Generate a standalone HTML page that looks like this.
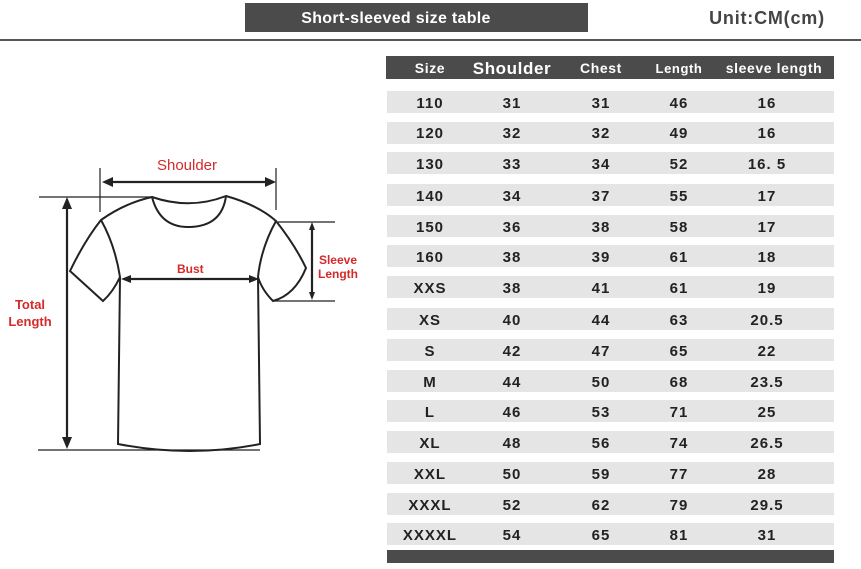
<!DOCTYPE html>
<html><head><meta charset="utf-8"><style>
body{margin:0;background:#fff;}
svg{display:block;font-family:"Liberation Sans",Arial,sans-serif;}
</style></head><body>
<svg width="861" height="569" viewBox="0 0 861 569" xmlns="http://www.w3.org/2000/svg">
<rect x="245" y="3" width="343" height="29" fill="#4b4b4b"/>
<text x="396" y="23" fill="#fff" font-size="16" font-weight="bold" text-anchor="middle" letter-spacing="0.3">Short-sleeved size  table</text>
<text x="767" y="24" fill="#444" font-size="18" font-weight="bold" text-anchor="middle" letter-spacing="0.8">Unit:CM(cm)</text>
<rect x="0" y="39" width="861" height="2" fill="#555"/>
<rect x="386" y="56" width="448" height="23" fill="#4b4b4b"/>
<g fill="#fff" font-weight="bold" text-anchor="middle" letter-spacing="0.6">
<text x="430" y="73" font-size="14">Size</text>
<text x="512" y="74" font-size="17">Shoulder</text>
<text x="601" y="73" font-size="14">Chest</text>
<text x="679" y="73" font-size="13">Length</text>
<text x="774" y="73" font-size="14">sleeve length</text>
</g>
<g fill="#e5e5e5">
<rect x="387" y="91" width="447" height="22"/><rect x="387" y="122" width="447" height="22"/>
<rect x="387" y="152" width="447" height="22"/><rect x="387" y="184" width="447" height="22"/>
<rect x="387" y="215" width="447" height="22"/><rect x="387" y="245" width="447" height="22"/>
<rect x="387" y="276" width="447" height="22"/><rect x="387" y="308" width="447" height="22"/>
<rect x="387" y="339" width="447" height="22"/><rect x="387" y="370" width="447" height="22"/>
<rect x="387" y="400" width="447" height="22"/><rect x="387" y="431" width="447" height="22"/>
<rect x="387" y="462" width="447" height="22"/><rect x="387" y="493" width="447" height="22"/>
<rect x="387" y="523" width="447" height="22"/>
</g>
<rect x="387" y="550" width="447" height="13" fill="#4b4b4b"/>
<g fill="#222" font-size="15" font-weight="bold" text-anchor="middle" letter-spacing="1">
<g transform="translate(0,108)"><text x="430">110</text><text x="512">31</text><text x="601">31</text><text x="679">46</text><text x="767">16</text></g>
<g transform="translate(0,138)"><text x="430">120</text><text x="512">32</text><text x="601">32</text><text x="679">49</text><text x="767">16</text></g>
<g transform="translate(0,169)"><text x="430">130</text><text x="512">33</text><text x="601">34</text><text x="679">52</text><text x="767">16. 5</text></g>
<g transform="translate(0,201)"><text x="430">140</text><text x="512">34</text><text x="601">37</text><text x="679">55</text><text x="767">17</text></g>
<g transform="translate(0,232)"><text x="430">150</text><text x="512">36</text><text x="601">38</text><text x="679">58</text><text x="767">17</text></g>
<g transform="translate(0,262)"><text x="430">160</text><text x="512">38</text><text x="601">39</text><text x="679">61</text><text x="767">18</text></g>
<g transform="translate(0,293)"><text x="430">XXS</text><text x="512">38</text><text x="601">41</text><text x="679">61</text><text x="767">19</text></g>
<g transform="translate(0,325)"><text x="430">XS</text><text x="512">40</text><text x="601">44</text><text x="679">63</text><text x="767">20.5</text></g>
<g transform="translate(0,356)"><text x="430">S</text><text x="512">42</text><text x="601">47</text><text x="679">65</text><text x="767">22</text></g>
<g transform="translate(0,387)"><text x="430">M</text><text x="512">44</text><text x="601">50</text><text x="679">68</text><text x="767">23.5</text></g>
<g transform="translate(0,417)"><text x="430">L</text><text x="512">46</text><text x="601">53</text><text x="679">71</text><text x="767">25</text></g>
<g transform="translate(0,448)"><text x="430">XL</text><text x="512">48</text><text x="601">56</text><text x="679">74</text><text x="767">26.5</text></g>
<g transform="translate(0,479)"><text x="430">XXL</text><text x="512">50</text><text x="601">59</text><text x="679">77</text><text x="767">28</text></g>
<g transform="translate(0,510)"><text x="430">XXXL</text><text x="512">52</text><text x="601">62</text><text x="679">79</text><text x="767">29.5</text></g>
<g transform="translate(0,540)"><text x="430">XXXXL</text><text x="512">54</text><text x="601">65</text><text x="679">81</text><text x="767">31</text></g>
</g>
<g fill="none" stroke="#222" stroke-width="2">
<path d="M152,197 Q190,210 226,196 Q258,205 276,221 Q295,245 306,268 Q295,295 273,301 Q262,290 258,277 L260,444 Q190,458 118,444 L120,277 Q113,292 103,301 L70,271 Q85,240 101,220 Q125,203 152,197 Z"/>
<path d="M152,197 Q160,228 190,227 Q222,226 226,196"/>
<path d="M101,220 Q115,245 120,277"/>
<path d="M276,221 Q261,248 258,277"/>
</g>
<g stroke="#222" stroke-width="1.2">
<line x1="100" y1="168" x2="100" y2="212"/><line x1="276" y1="168" x2="276" y2="210"/>
<line x1="39" y1="197" x2="153" y2="197"/><line x1="38" y1="450" x2="260" y2="450"/>
<line x1="278" y1="222" x2="335" y2="222"/><line x1="273" y1="301" x2="335" y2="301"/>
</g>
<g stroke="#222" stroke-width="2.2">
<line x1="110" y1="182" x2="268" y2="182"/>
<line x1="67" y1="206" x2="67" y2="440"/>
<line x1="128" y1="279" x2="252" y2="279"/>
<line x1="312" y1="228" x2="312" y2="295"/>
</g>
<g fill="#222">
<polygon points="102,182 113,177 113,187"/><polygon points="276,182 265,177 265,187"/>
<polygon points="67,197 62,209 72,209"/><polygon points="67,449 62,437 72,437"/>
<polygon points="121,279 131,275 131,283"/><polygon points="259,279 249,275 249,283"/>
<polygon points="312,222 309,230 315,230"/><polygon points="312,300 309,292 315,292"/>
</g>
<g fill="#d42a2a" font-weight="bold">
<text x="187" y="170" font-size="15" font-weight="normal" text-anchor="middle">Shoulder</text>
<text x="177" y="273" font-size="12">Bust</text>
<text x="338" y="264" font-size="12" text-anchor="middle">Sleeve</text>
<text x="338" y="278" font-size="12" text-anchor="middle">Length</text>
<text x="30" y="309" font-size="13" text-anchor="middle">Total</text>
<text x="30" y="326" font-size="13" text-anchor="middle">Length</text>
</g>
</svg>
</body></html>
